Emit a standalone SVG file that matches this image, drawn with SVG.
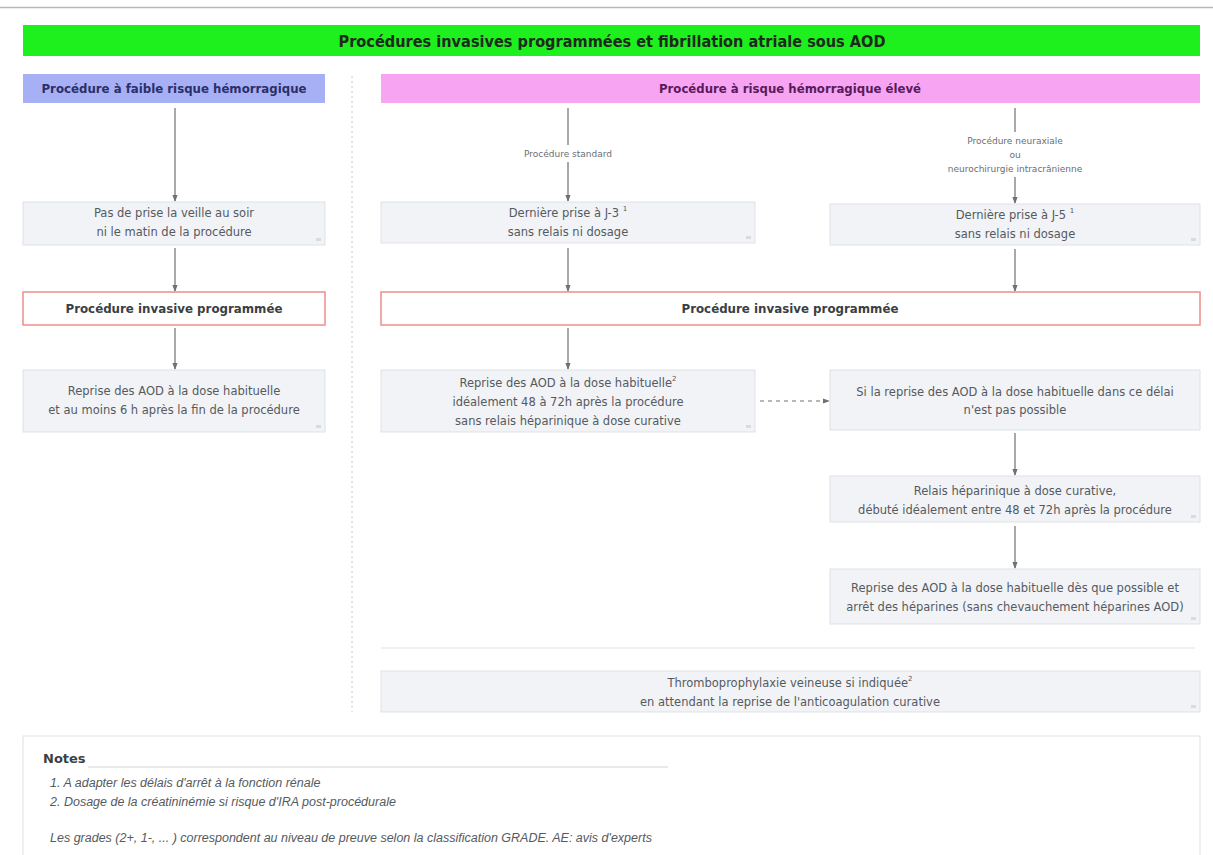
<svg xmlns="http://www.w3.org/2000/svg" width="1213" height="855" viewBox="0 0 1213 855">
  <style>
    text { font-family: "DejaVu Sans", "Liberation Sans", sans-serif; }
    .box { fill: #f1f3f6; stroke: #dde1e6; stroke-width: 1; }
    .proc { fill: #ffffff; stroke: #ef8c8c; stroke-width: 1.5; }
    .t { font-size: 11.5px; fill: #555a60; text-anchor: middle; }
    .tb { font-size: 12px; font-weight: bold; fill: #3a3f45; text-anchor: middle; }
    .lbl { font-size: 9px; fill: #6a6e74; text-anchor: middle; }
    .sup { font-size: 7px; }
    .edge { stroke: #707070; stroke-width: 1.2; fill: none; }
    .corner { fill: #d8dbe0; }
    .note { font-family: "Liberation Sans", sans-serif; font-size: 12.5px; font-style: italic; fill: #555a60; }
  </style>
  <defs>
    <marker id="arrow" viewBox="0 0 8 8" refX="7" refY="4" markerWidth="6" markerHeight="6" orient="auto">
      <path d="M0,1 L8,4 L0,7 z" fill="#707070"/>
    </marker>
  </defs>

  <rect width="1213" height="855" fill="#ffffff"/>
  <line x1="0" y1="7.5" x2="1213" y2="7.5" stroke="#b8b8b8" stroke-width="1.5"/>

  <!-- title -->
  <g id="title">
    <rect x="23" y="25" width="1177" height="31" fill="#1ef01e"/>
    <text x="612" y="47" font-family="Liberation Sans, sans-serif" font-size="16" font-weight="bold" fill="#1d2a1d" text-anchor="middle" textLength="547" lengthAdjust="spacingAndGlyphs">Procédures invasives programmées et fibrillation atriale sous AOD</text>
  </g>

  <!-- column headers -->
  <g id="header-low">
    <rect x="23" y="74" width="302" height="29" fill="#a7b0f4"/>
    <text x="174" y="93" font-size="12" font-weight="bold" fill="#2a2f6a" text-anchor="middle" textLength="265" lengthAdjust="spacingAndGlyphs">Procédure à faible risque hémorragique</text>
  </g>
  <g id="header-high">
    <rect x="381" y="74" width="819" height="29" fill="#f7a5f3"/>
    <text x="790" y="93" font-size="12" font-weight="bold" fill="#5a1a5a" text-anchor="middle" textLength="262" lengthAdjust="spacingAndGlyphs">Procédure à risque hémorragique élevé</text>
  </g>

  <!-- column divider -->
  <line x1="352" y1="76" x2="352" y2="712" stroke="#c8c8c8" stroke-width="1" stroke-dasharray="2,3"/>

  <!-- connectors -->
  <g id="connectors">
    <line class="edge" x1="175" y1="108" x2="175" y2="201" marker-end="url(#arrow)"/>
    <line class="edge" x1="175" y1="248" x2="175" y2="291" marker-end="url(#arrow)"/>
    <line class="edge" x1="175" y1="328" x2="175" y2="369" marker-end="url(#arrow)"/>

    <line class="edge" x1="568" y1="108" x2="568" y2="145"/>
    <line class="edge" x1="568" y1="162" x2="568" y2="201" marker-end="url(#arrow)"/>
    <line class="edge" x1="568" y1="248" x2="568" y2="291" marker-end="url(#arrow)"/>
    <line class="edge" x1="568" y1="328" x2="568" y2="369" marker-end="url(#arrow)"/>

    <line class="edge" x1="1015" y1="108" x2="1015" y2="132"/>
    <line class="edge" x1="1015" y1="177" x2="1015" y2="203" marker-end="url(#arrow)"/>
    <line class="edge" x1="1015" y1="249" x2="1015" y2="291" marker-end="url(#arrow)"/>

    <line class="edge" x1="760" y1="401" x2="829" y2="401" stroke-dasharray="4,4" marker-end="url(#arrow)"/>
    <line class="edge" x1="1015" y1="433" x2="1015" y2="475" marker-end="url(#arrow)"/>
    <line class="edge" x1="1015" y1="526" x2="1015" y2="568" marker-end="url(#arrow)"/>

    <text class="lbl" x="568" y="157">Procédure standard</text>
    <text class="lbl" x="1015" y="144">Procédure neuraxiale</text>
    <text class="lbl" x="1015" y="158">ou</text>
    <text class="lbl" x="1015" y="172">neurochirurgie intracrânienne</text>
  </g>

  <!-- low bleeding risk column -->
  <g id="low-stop">
    <rect class="box" x="23" y="202" width="302" height="43"/>
    <rect class="corner" x="316" y="238" width="5" height="3"/>
    <text class="t" x="174" y="217">Pas de prise la veille au soir</text>
    <text class="t" x="174" y="236">ni le matin de la procédure</text>
  </g>
  <g id="low-procedure">
    <rect class="proc" x="23" y="292" width="302" height="33"/>
    <text class="tb" x="174" y="313" textLength="217" lengthAdjust="spacingAndGlyphs">Procédure invasive programmée</text>
  </g>
  <g id="low-resume">
    <rect class="box" x="23" y="370" width="302" height="62"/>
    <rect class="corner" x="316" y="425" width="5" height="3"/>
    <text class="t" x="174" y="395">Reprise des AOD à la dose habituelle</text>
    <text class="t" x="174" y="414">et au moins 6 h après la fin de la procédure</text>
  </g>

  <!-- high bleeding risk column -->
  <g id="high-stop-standard">
    <rect class="box" x="381" y="202" width="374" height="41"/>
    <rect class="corner" x="746" y="236" width="5" height="3"/>
    <text class="t" x="568" y="217">Dernière prise à J-3 <tspan class="sup" dy="-6">1</tspan></text>
    <text class="t" x="568" y="236">sans relais ni dosage</text>
  </g>
  <g id="high-stop-neuro">
    <rect class="box" x="830" y="204" width="370" height="41"/>
    <rect class="corner" x="1191" y="238" width="5" height="3"/>
    <text class="t" x="1015" y="219">Dernière prise à J-5 <tspan class="sup" dy="-6">1</tspan></text>
    <text class="t" x="1015" y="238">sans relais ni dosage</text>
  </g>
  <g id="high-procedure">
    <rect class="proc" x="381" y="292" width="819" height="33"/>
    <text class="tb" x="790" y="313" textLength="217" lengthAdjust="spacingAndGlyphs">Procédure invasive programmée</text>
  </g>
  <g id="high-resume">
    <rect class="box" x="381" y="370" width="374" height="62"/>
    <rect class="corner" x="746" y="425" width="5" height="3"/>
    <text class="t" x="568" y="387">Reprise des AOD à la dose habituelle<tspan class="sup" dy="-6">2</tspan></text>
    <text class="t" x="568" y="406">idéalement 48 à 72h après la procédure</text>
    <text class="t" x="568" y="425">sans relais héparinique à dose curative</text>
  </g>
  <g id="high-not-possible">
    <rect class="box" x="830" y="370" width="370" height="60"/>
    <text class="t" x="1015" y="396">Si la reprise des AOD à la dose habituelle dans ce délai</text>
    <text class="t" x="1015" y="414">n'est pas possible</text>
  </g>
  <g id="high-heparin">
    <rect class="box" x="830" y="476" width="370" height="46"/>
    <rect class="corner" x="1191" y="515" width="5" height="3"/>
    <text class="t" x="1015" y="495">Relais héparinique à dose curative,</text>
    <text class="t" x="1015" y="514">débuté idéalement entre 48 et 72h après la procédure</text>
  </g>
  <g id="high-resume-late">
    <rect class="box" x="830" y="569" width="370" height="55"/>
    <rect class="corner" x="1191" y="617" width="5" height="3"/>
    <text class="t" x="1015" y="592">Reprise des AOD à la dose habituelle dès que possible et</text>
    <text class="t" x="1015" y="611">arrêt des héparines (sans chevauchement héparines AOD)</text>
  </g>

  <line x1="381" y1="648" x2="1195" y2="648" stroke="#dcdfe3" stroke-width="1.2"/>

  <g id="thromboprophylaxis">
    <rect class="box" x="381" y="671" width="819" height="41"/>
    <rect class="corner" x="1191" y="705" width="5" height="3"/>
    <text class="t" x="790" y="687">Thromboprophylaxie veineuse si indiquée<tspan class="sup" dy="-6">2</tspan></text>
    <text class="t" x="790" y="706">en attendant la reprise de l'anticoagulation curative</text>
  </g>

  <!-- notes -->
  <g id="notes">
    <rect x="23" y="736" width="1177" height="125" fill="#ffffff" stroke="#e2e4e8" stroke-width="1.2"/>
    <text x="43" y="763" font-family="Liberation Sans, sans-serif" font-size="13" font-weight="bold" fill="#3a3f45">Notes</text>
    <line x1="88" y1="767" x2="668" y2="767" stroke="#d0d3d8" stroke-width="1"/>
    <text class="note" x="50" y="787">1. A adapter les délais d'arrêt à la fonction rénale</text>
    <text class="note" x="50" y="806">2. Dosage de la créatininémie si risque d'IRA post-procédurale</text>
    <text class="note" x="50" y="842">Les grades (2+, 1-, ... ) correspondent au niveau de preuve selon la classification GRADE. AE: avis d'experts</text>
  </g>
</svg>
